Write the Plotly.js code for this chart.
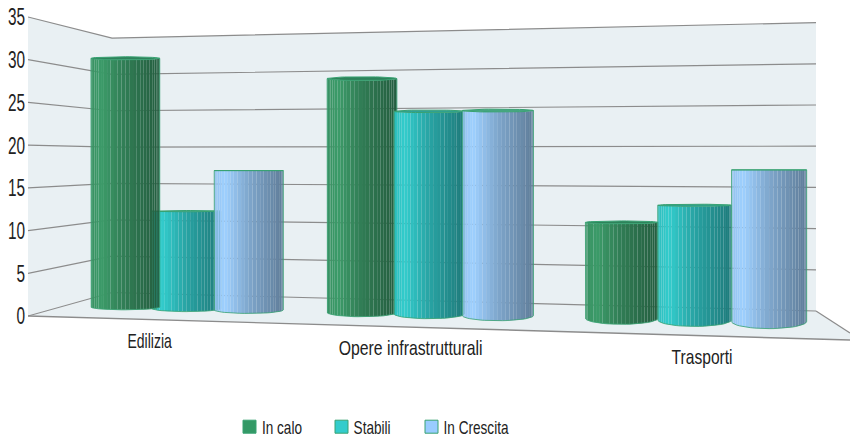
<!DOCTYPE html>
<html><head><meta charset="utf-8">
<script src="https://cdn.plot.ly/plotly-3.0.1.min.js"></script>
<style>html,body{margin:0;padding:0;background:#fff}</style></head>
<body><div id="chart" style="width:850px;height:437px"></div>
<script>
// ---- data ----
const categories = ["Edilizia", "Opere infrastrutturali", "Trasporti"];
const seriesNames = ["In calo", "Stabili", "In Crescita"];
const inCalo = [31, 28, 11];
const stabili = [12, 24, 13];
const inCrescita = [17, 24, 17];
const tickValues = [0, 5, 10, 15, 20, 25, 30, 35];

// ---- styling ----
const seriesValues = [inCalo, stabili, inCrescita];
const seriesRGB = [[60,155,105],[50,204,204],[158,208,255]];
const lidRGB = [[46,130,90],[46,160,150],[70,165,130]];
const legendColors = ["#339966", "#33cccc", "#99ccff"];
const wallColor = "#e9f0f3", gridColor = "#8c8c8c", rimColor = "#38a272";
const fontName = "'Liberation Sans',sans-serif";

// ---- perspective scene: page pixel <-> value axis ----
const PX_PER_UNIT = 8.543, FRONT_ZERO = 316;
const toY = p => (FRONT_ZERO - p) / PX_PER_UNIT;
const backLeft = v => 292.5 - 7.27 * v, backRight = v => 311 - 8.24 * v;
const frontLeft = v => FRONT_ZERO - PX_PER_UNIT * v;
const L0 = 28, L1 = 112, R1 = 816, R2 = 850;
const frontEdge = x => FRONT_ZERO + (x - L0) * 0.0292;
const barCenter = u => 185.2 + 62.2 * (u - 1) + 0.764 * (u - 1) * (u - 1) + (u < 3.2 ? 0.5 * (3.2 - u) : 0);
const barRadius = u => 34.4 + 0.035 * u * u;
const barScale = x => 7.85 + 0.00138 * x;
const flatness = (y, x) => Math.abs(y - 170) * (0.015 + x * 0.00004);

const traces = [];
const poly = (xs, ys, color) => traces.push({x: xs, y: ys.map(toY), mode: "lines", fill: "toself",
  fillcolor: color, line: {width: 0}, hoverinfo: "skip", showlegend: false});
const line = (xs, ys, color, w) => traces.push({x: xs, y: ys.map(toY), mode: "lines",
  line: {color: color, width: w}, hoverinfo: "skip", showlegend: false});

// walls and floor
poly([L0, L1, L1, L0], [frontLeft(35), backLeft(35), backLeft(0), frontLeft(0)], wallColor);
poly([L1, R1, R1, L1], [backLeft(35), backRight(35), backRight(0), backLeft(0)], wallColor);
poly([L0, L1, R1, R2, R2], [frontLeft(0), backLeft(0), backRight(0), 333, frontEdge(R2)], wallColor);
// grid
tickValues.forEach(v => {
  line([L0, L1, R1], [frontLeft(v), backLeft(v), backRight(v)], gridColor, 1.2);
});
line([L0, R2], [frontLeft(0), frontEdge(R2)], gridColor, 1.4);
line([R1, R2], [backRight(0), 333], gridColor, 1.2);

// cylinders
const FACETS = 28, ARC = 24;
function shade(f) {
  if (f < 0.15) return 0.93 + 0.07 * f / 0.15;
  if (f < 0.5) return 1 - 0.2 * (f - 0.15) / 0.35;
  return 0.8 - 0.2 * (f - 0.5) / 0.5;
}
function cylinder(c, s) {
  const u = c * 3.75 + s, cx = barCenter(u), r = barRadius(u);
  const bottom = frontEdge(cx) - 9;
  const by = flatness(bottom, cx), base = bottom - by;
  const top = base - seriesValues[s][c] * barScale(cx);
  const ty = flatness(top, cx) * 0.7;
  const rgb = seriesRGB[s];
  for (let i = 0; i < FACETS; i++) {
    const a0 = Math.PI * i / FACETS, a1 = Math.PI * (i + 1) / FACETS;
    const x0 = cx - r * Math.cos(a0), x1 = cx - r * Math.cos(a1);
    const k = shade((cx - r * Math.cos((a0 + a1) / 2) - (cx - r)) / (2 * r));
    const col = `rgb(${rgb.map(q => Math.round(q * k)).join(",")})`;
    poly([x0, x1, x1, x0],
         [top + ty * Math.sin(a0), top + ty * Math.sin(a1), base + by * Math.sin(a1), base + by * Math.sin(a0)], col);
  }
  // lid
  const lx = [], ly = [];
  for (let i = 0; i <= ARC * 2; i++) {
    const a = Math.PI * i / ARC;
    lx.push(cx - r * Math.cos(a)); ly.push(top + ty * Math.sin(a));
  }
  poly(lx, ly, `rgb(${lidRGB[s].join(",")})`);
  line(lx, ly, rimColor, 1);
  // silhouette
  const ox = [cx - r], oy = [top];
  for (let i = 0; i <= ARC; i++) {
    const a = Math.PI * i / ARC;
    ox.push(cx - r * Math.cos(a)); oy.push(base + by * Math.sin(a));
  }
  ox.push(cx + r); oy.push(top);
  line(ox, oy, rimColor, 0.8);
}
categories.forEach((name, c) => {
  (c === 0 ? [1, 0, 2] : [0, 1, 2]).forEach(s => cylinder(c, s));
});

// legend entries
seriesNames.forEach((n, s) => traces.push({x: [null], y: [null], name: n, mode: "markers",
  marker: {symbol: "square", size: 13, color: legendColors[s], line: {color: rimColor, width: 1}}}));

// category labels follow the front edge of the floor
const annotations = categories.map((name, c) => {
  const gx = barCenter(c * 3.75 + 1);
  const lx = 149.5 + 1.082 * (gx - barCenter(1));
  return {x: lx, y: toY(frontEdge(lx) + 21), xref: "x", yref: "y", text: name, showarrow: false,
          font: {family: fontName, size: 20, color: "#222"}, xanchor: "center", yanchor: "middle"};
});

const PLOT_BOTTOM = 375, PLOT_TOP = 5;
const layout = {
  width: 850, height: 437, showlegend: true,
  margin: {l: L0, r: 0, t: PLOT_TOP, b: 437 - PLOT_BOTTOM, pad: 0, autoexpand: false},
  paper_bgcolor: "#fff", plot_bgcolor: "#fff",
  xaxis: {range: [L0, R2], visible: false, fixedrange: true},
  yaxis: {range: [toY(PLOT_BOTTOM), toY(PLOT_TOP)], tickmode: "array", tickvals: tickValues, ticktext: tickValues.map(String),
          showgrid: false, zeroline: false, showline: false, ticks: "", fixedrange: true,
          tickfont: {family: fontName, size: 24, color: "#222"}},
  legend: {orientation: "h", x: 0.24, y: (PLOT_BOTTOM - 427) / (PLOT_BOTTOM - PLOT_TOP), xanchor: "left", yanchor: "middle",
           font: {family: fontName, size: 18, color: "#222"}, bgcolor: "rgba(0,0,0,0)", itemwidth: 30},
  annotations: annotations
};

// the reference face is a tall condensed one: narrow the real text elements
function squeeze(el, sx, dx) {
  const x = +el.getAttribute("x") || 0, y = +el.getAttribute("y") || 0;
  const prev = el.getAttribute("transform") || "";
  el.setAttribute("transform", `${prev} translate(${x + (dx || 0)},${y}) scale(${sx},1) translate(${-x},${-y})`);
}
Plotly.newPlot("chart", traces, layout, {displayModeBar: false, staticPlot: true}).then(gd => {
  gd.querySelectorAll(".ytick text").forEach(t => squeeze(t, 0.64, -2));
  const labelScale = [0.70, 0.79, 0.78], labelShift = [0, -1.5, 2];
  gd.querySelectorAll(".annotation-text").forEach((t, i) => squeeze(t, labelScale[i], labelShift[i]));
  const swatch = [249.5, 341.5, 431.5], label = [259.5, 351, 441];
  gd.querySelectorAll(".legend .traces").forEach((g, i) => {
    const pt = g.querySelector(".legendpoints path");
    const box = pt.getBoundingClientRect();
    const dx = swatch[i] - (box.left + box.width / 2);
    const m = /translate\(([-\d.]+)[, ]+([-\d.]+)\)/.exec(g.getAttribute("transform"));
    g.setAttribute("transform", `translate(${+m[1] + dx},${m[2]})`);
    const t = g.querySelector(".legendtext");
    squeeze(t, 0.755, 0);
    const shift = label[i] - t.getBoundingClientRect().left;
    squeeze(t, 1, shift);
  });
});
</script></body></html>
